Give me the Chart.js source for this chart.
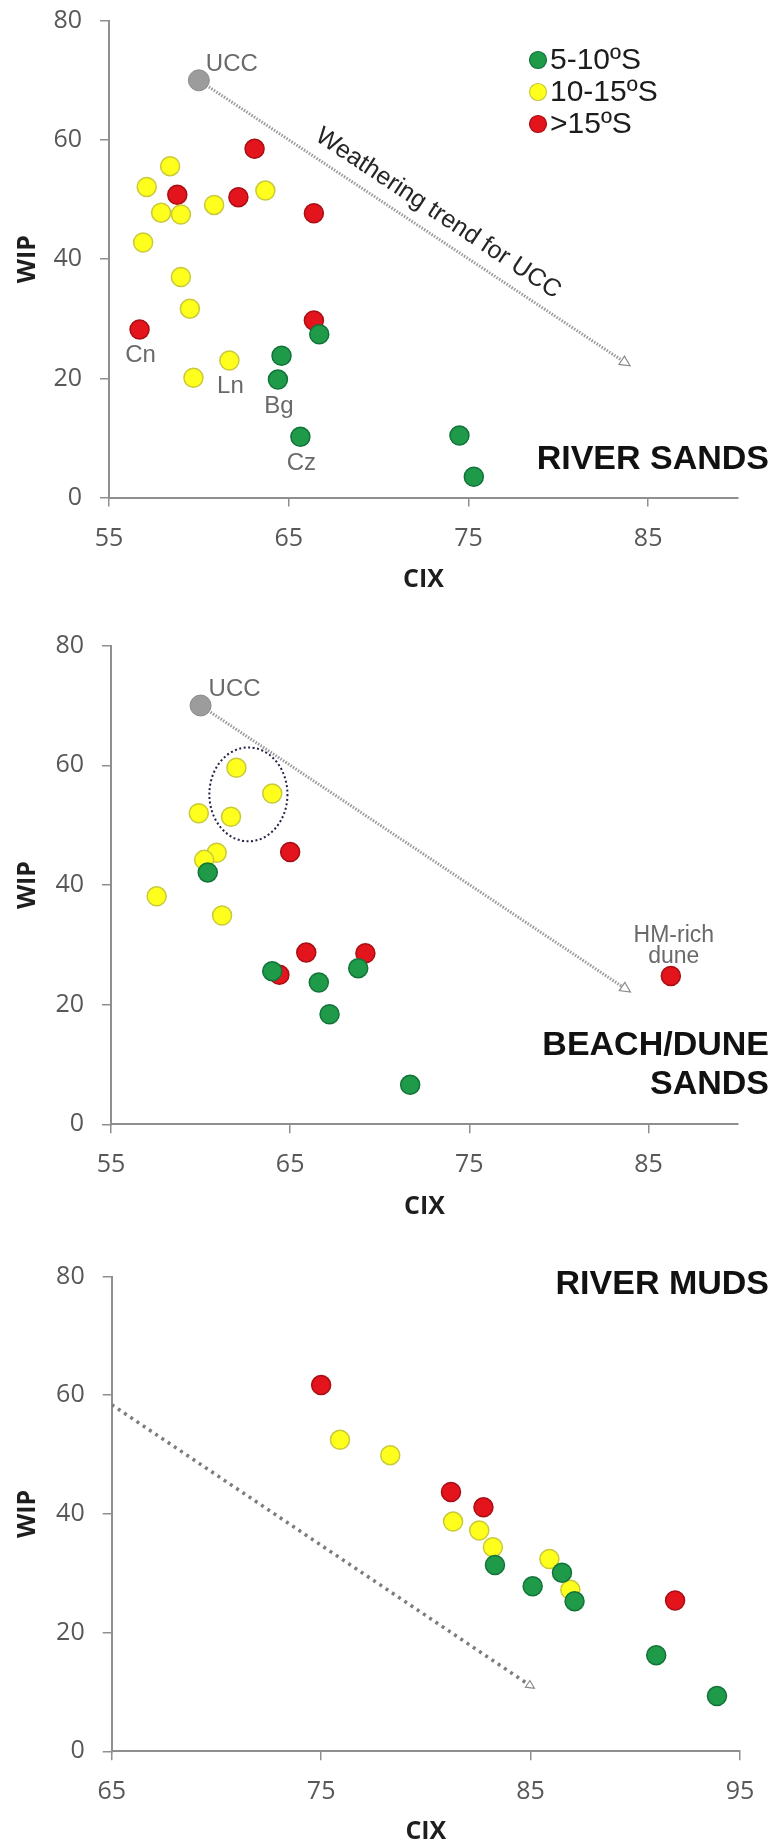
<!DOCTYPE html>
<html>
<head>
<meta charset="utf-8">
<title>WIP vs CIX</title>
<script src="https://cdn.jsdelivr.net/npm/chart.js@4.4.0/dist/chart.umd.min.js"></script>
<style>
  html, body { margin: 0; padding: 0; background: #fff; }
  #page { position: relative; width: 776px; height: 1847px; overflow: hidden; }
  .panel { position: absolute; left: 0; }
  canvas { display: block; }
</style>
</head>
<body>
<div id="page">
  <div class="panel" style="top:0px"><canvas id="riverSandsChart" width="776" height="612"></canvas></div>
  <div class="panel" style="top:612px"><canvas id="beachSandsChart" width="776" height="628"></canvas></div>
  <div class="panel" style="top:1240px"><canvas id="riverMudsChart" width="776" height="607"></canvas></div>
</div>
<script>
/* ==========================
   DỮ LIỆU
========================== */
const legendLabels = ['5-10ºS', '10-15ºS', '>15ºS'];
const yTicks = [0, 20, 40, 60, 80];
const sandXTicks = [55, 65, 75, 85];
const mudXTicks = [65, 75, 85, 95];

// UCC (upper continental crust)
const uccCIX = [60];
const uccWIP = [70];

// --- River sands ---
const rsGreenCIX = [66.7, 64.6, 64.4, 65.65, 74.5, 75.3];
const rsGreenWIP = [27.4, 23.8, 19.8, 10.2, 10.4, 3.5];
const rsYellowCIX = [58.4, 57.1, 57.9, 59.0, 56.9, 60.85, 63.7, 59.0, 59.5, 61.7, 59.7];
const rsYellowWIP = [55.6, 52.1, 47.8, 47.5, 42.8, 49.1, 51.5, 37.0, 31.7, 23.0, 20.1];
const rsRedCIX = [63.1, 58.8, 62.2, 66.4, 56.7, 66.4];
const rsRedWIP = [58.5, 50.8, 50.4, 47.7, 28.2, 29.7];
const rsLabelNames = ['Cn', 'Ln', 'Bg', 'Cz'];
const rsLabelCIX = [56.7, 61.7, 64.4, 65.65];
const rsLabelWIP = [28.2, 23.0, 19.8, 10.2];

// --- Beach / dune sands ---
const bdGreenCIX = [60.4, 64.0, 66.6, 67.2, 68.8, 71.7];
const bdGreenWIP = [42.1, 25.6, 23.7, 18.4, 26.1, 6.6];
const bdYellowCIX = [62.0, 64.0, 59.9, 61.7, 60.9, 60.2, 57.55, 61.2];
const bdYellowWIP = [59.6, 55.3, 52.0, 51.4, 45.4, 44.2, 38.1, 34.9];
const bdRedCIX = [65.0, 65.9, 69.2, 64.4, 86.25];
const bdRedWIP = [45.5, 28.7, 28.6, 25.0, 24.8];
// vòng elip chấm (nhóm điểm) : tâm và bán trục theo đơn vị dữ liệu
const bdCircleCIX = [62.67, 2.18];
const bdCircleWIP = [55.15, 7.85];

// --- River muds ---
const rmGreenCIX = [83.3, 85.1, 86.5, 87.1, 91.0, 93.9];
const rmGreenWIP = [31.4, 27.8, 30.1, 25.3, 16.2, 9.3];
const rmYellowCIX = [75.9, 78.3, 81.3, 82.55, 83.2, 85.9, 86.9];
const rmYellowWIP = [52.5, 49.9, 38.7, 37.2, 34.4, 32.4, 27.2];
const rmRedCIX = [75.0, 81.2, 82.75, 91.9];
const rmRedWIP = [61.7, 43.7, 41.1, 25.4];

// Đường xu hướng phong hoá
const sandTrendCIX = [60, 83.9];
const sandTrendWIP = [70, 22.3];
const mudTrendCIX = [65, 85.1];
const mudTrendWIP = [58.4, 10.8];

/* ==========================
   MÀU & FONT
========================== */
const GREEN = '#1f9a48', GREEN_EDGE = '#12733a';
const YELLOW = '#ffff1e', YELLOW_EDGE = '#c9c93a';
const RED = '#e3141c', RED_EDGE = '#a80e14';
const GREY = '#9c9c9c', GREY_EDGE = '#8a8a8a';
const AXIS = '#8f8f8f';
const TICK_TEXT = '#585858';
const TICK_FONT = { family: '"Open Sans", sans-serif', size: 25, lineHeight: 1.2 };
const AXIS_TITLE_FONT = { family: '"Open Sans", sans-serif', size: 25, weight: 'bold', lineHeight: 1.2 };
const ARIAL = '"Liberation Sans", Arial, sans-serif';

function toPoints(xs, ys) {
    return xs.map((x, i) => ({ x: x, y: ys[i] }));
}

/* ==========================
   PLUGIN: chú thích, nhãn, tiêu đề
========================== */
const decorPlugin = {
    id: 'decor',
    afterDatasetsDraw(chart, args, opts) {
        const ctx = chart.ctx;
        const px = v => chart.scales.x.getPixelForValue(v);
        const py = v => chart.scales.y.getPixelForValue(v);
        ctx.save();

        // mũi tên rỗng ở cuối đường xu hướng
        if (opts.trendIndex !== undefined) {
            const pts = chart.getDatasetMeta(opts.trendIndex).data;
            const a = pts[0], b = pts[pts.length - 1];
            const ang = Math.atan2(b.y - a.y, b.x - a.x);
            const len = opts.arrowLen || 10, hw = opts.arrowHalf || 5;
            ctx.translate(b.x, b.y);
            ctx.rotate(ang);
            ctx.beginPath();
            ctx.moveTo(2, 0);
            ctx.lineTo(2 - len, -hw);
            ctx.lineTo(2 - len, hw);
            ctx.closePath();
            ctx.fillStyle = '#fff';
            ctx.fill();
            ctx.lineWidth = 1.2;
            ctx.strokeStyle = '#8a8a8a';
            ctx.stroke();
            ctx.setTransform(1, 0, 0, 1, 0, 0);

            // chữ chạy dọc theo đường
            if (opts.trendText) {
                const t = opts.trendText;
                const cx = a.x + (b.x - a.x) * t.at;
                const cy = a.y + (b.y - a.y) * t.at;
                ctx.translate(cx, cy);
                ctx.rotate(ang);
                ctx.font = t.font;
                ctx.fillStyle = '#262626';
                ctx.textAlign = 'center';
                ctx.textBaseline = 'middle';
                ctx.fillText(t.text, 0, -t.offset);
                ctx.setTransform(1, 0, 0, 1, 0, 0);
            }
        }

        // elip chấm
        if (opts.ellipse) {
            const e = opts.ellipse;
            const cx = px(e.cix[0]), cy = py(e.wip[0]);
            const rx = Math.abs(px(e.cix[0] + e.cix[1]) - cx);
            const ry = Math.abs(py(e.wip[0] + e.wip[1]) - cy);
            ctx.beginPath();
            ctx.ellipse(cx, cy, rx, ry, 0, 0, Math.PI * 2);
            ctx.setLineDash([2, 2.5]);
            ctx.lineWidth = 2;
            ctx.strokeStyle = '#23234a';
            ctx.stroke();
            ctx.setLineDash([]);
        }

        // nhãn điểm
        (opts.pointLabels || []).forEach(l => {
            ctx.font = l.font || ('24px ' + ARIAL);
            ctx.fillStyle = l.color || '#6a6a6a';
            ctx.textAlign = l.align || 'center';
            ctx.textBaseline = 'alphabetic';
            ctx.fillText(l.text, px(l.x) + (l.dx || 0), py(l.y) + (l.dy || 0));
        });

        // chú giải
        if (opts.legend) {
            const lg = opts.legend;
            chart.data.datasets.slice(lg.from, lg.from + legendLabels.length).forEach((ds, i) => {
                const y = lg.y + i * lg.gap;
                ctx.beginPath();
                ctx.arc(lg.x, y, 8.5, 0, Math.PI * 2);
                ctx.fillStyle = ds.backgroundColor;
                ctx.fill();
                ctx.lineWidth = 1.2;
                ctx.strokeStyle = ds.borderColor;
                ctx.stroke();
                ctx.font = '30px ' + ARIAL;
                ctx.fillStyle = '#1c1c1c';
                ctx.textAlign = 'left';
                ctx.textBaseline = 'middle';
                ctx.fillText(ds.label, lg.x + 12, y + 1);
            });
        }

        // tiêu đề lớn
        (opts.titles || []).forEach(t => {
            ctx.font = 'bold 34px ' + ARIAL;
            ctx.fillStyle = '#111';
            ctx.textAlign = 'right';
            ctx.textBaseline = 'alphabetic';
            ctx.fillText(t.text, t.x, t.y);
        });

        ctx.restore();
    }
};

/* ==========================
   TẠO MỘT BIỂU ĐỒ
========================== */
function makePanel(canvasId, cfg) {
    const canvas = document.getElementById(canvasId);
    const H = canvas.height;

    const groups = [
        { cix: cfg.green[0], wip: cfg.green[1], fill: GREEN, edge: GREEN_EDGE },
        { cix: cfg.yellow[0], wip: cfg.yellow[1], fill: YELLOW, edge: YELLOW_EDGE },
        { cix: cfg.red[0], wip: cfg.red[1], fill: RED, edge: RED_EDGE }
    ];

    const datasets = [];
    if (cfg.ucc) {
        datasets.push({
            label: 'UCC', data: toPoints(uccCIX, uccWIP), order: 0,
            backgroundColor: GREY, borderColor: GREY_EDGE, borderWidth: 1, pointRadius: 10.5
        });
    }
    const legendFrom = datasets.length;
    groups.forEach((g, i) => {
        datasets.push({
            label: legendLabels[i], data: toPoints(g.cix, g.wip), order: i + 1,
            backgroundColor: g.fill, borderColor: g.edge, borderWidth: 1.5, pointRadius: 9.5
        });
    });
    const trendIndex = datasets.length;
    datasets.push({
        label: 'trend', data: toPoints(cfg.trend[0], cfg.trend[1]), order: 9,
        showLine: true, pointRadius: 0,
        borderColor: cfg.trendColor, borderWidth: cfg.trendWidth, borderDash: cfg.trendDash,
        backgroundColor: 'transparent'
    });

    const decor = Object.assign({ trendIndex: trendIndex }, cfg.decor);
    if (decor.legend) decor.legend.from = legendFrom;

    return new Chart(canvas, {
        type: 'scatter',
        data: { datasets: datasets },
        options: {
            responsive: false,
            animation: false,
            devicePixelRatio: 1,
            events: [],
            layout: { padding: { left: 0, top: cfg.plotTop, right: canvas.width - cfg.plotRight, bottom: 0 } },
            plugins: {
                legend: { display: false },
                tooltip: { enabled: false },
                decor: decor
            },
            scales: {
                x: {
                    type: 'linear',
                    min: cfg.xRange[0],
                    max: cfg.xRange[1],
                    afterBuildTicks: axis => { axis.ticks = cfg.xTicks.map(v => ({ value: v })); },
                    afterFit: axis => {
                        axis.height = H - cfg.plotBottom;
                        axis.paddingLeft = 0; axis.paddingRight = 0;
                    },
                    grid: { display: true, drawOnChartArea: false, drawTicks: true, tickLength: 9, color: AXIS, lineWidth: 1.5 },
                    border: { display: true, color: AXIS, width: 2 },
                    ticks: { padding: 17, color: TICK_TEXT, font: TICK_FONT, maxRotation: 0, autoSkip: false, callback: v => String(v) },
                    title: { display: true, text: 'CIX', color: '#1e1e1e', font: AXIS_TITLE_FONT, padding: { top: 0, bottom: cfg.cixPad } }
                },
                y: {
                    type: 'linear',
                    min: yTicks[0],
                    max: yTicks[yTicks.length - 1],
                    afterBuildTicks: axis => { axis.ticks = yTicks.map(v => ({ value: v })); },
                    afterFit: axis => {
                        axis.width = cfg.plotLeft;
                        // giữ vùng vẽ đúng vị trí, không để nhãn đẩy xuống
                        axis.paddingTop = 0; axis.paddingBottom = 0;
                    },
                    grid: { display: true, drawOnChartArea: false, drawTicks: true, tickLength: 9, color: AXIS, lineWidth: 1.5 },
                    border: { display: true, color: AXIS, width: 2 },
                    ticks: { padding: 18, color: TICK_TEXT, font: TICK_FONT, callback: v => String(v) },
                    title: { display: true, text: 'WIP', color: '#1e1e1e', font: AXIS_TITLE_FONT, padding: { top: 13, bottom: 0 } }
                }
            }
        },
        plugins: [decorPlugin]
    });
}

/* ==========================
   KHỞI CHẠY
========================== */
document.addEventListener('DOMContentLoaded', function () {

    // 1. River sands
    makePanel('riverSandsChart', {
        ucc: true,
        green: [rsGreenCIX, rsGreenWIP],
        yellow: [rsYellowCIX, rsYellowWIP],
        red: [rsRedCIX, rsRedWIP],
        trend: [sandTrendCIX, sandTrendWIP],
        trendColor: '#9a9a9a', trendWidth: 3, trendDash: [1.5, 1.5],
        xRange: [55, 90], xTicks: sandXTicks,
        plotLeft: 109, plotRight: 738, plotTop: 20.7, plotBottom: 497.6, cixPad: 17,
        decor: {
            pointLabels: [{ text: 'UCC', x: uccCIX[0], y: uccWIP[0], dx: 7, dy: -9, align: 'left' }]
                .concat(rsLabelNames.map((n, i) => ({ text: n, x: rsLabelCIX[i], y: rsLabelWIP[i], dx: 1, dy: 33 }))),
            trendText: { text: 'Weathering trend for UCC', at: 0.53, offset: 21, font: '25px ' + ARIAL },
            legend: { x: 538, y: 60, gap: 32 },
            titles: [{ text: 'RIVER SANDS', x: 769, y: 469 }]
        }
    });

    // 2. Beach / dune sands
    makePanel('beachSandsChart', {
        ucc: true,
        green: [bdGreenCIX, bdGreenWIP],
        yellow: [bdYellowCIX, bdYellowWIP],
        red: [bdRedCIX, bdRedWIP],
        trend: [sandTrendCIX, sandTrendWIP],
        trendColor: '#9a9a9a', trendWidth: 3, trendDash: [1.5, 1.5],
        xRange: [55, 90], xTicks: sandXTicks,
        plotLeft: 111, plotRight: 738, plotTop: 33.7, plotBottom: 512.3, cixPad: 18,
        decor: {
            pointLabels: [
                { text: 'UCC', x: uccCIX[0], y: uccWIP[0], dx: 8, dy: -9.5, align: 'left' },
                { text: 'HM-rich', x: bdRedCIX[4], y: bdRedWIP[4], dx: 3, dy: -34, font: '23px ' + ARIAL },
                { text: 'dune', x: bdRedCIX[4], y: bdRedWIP[4], dx: 3, dy: -13, font: '23px ' + ARIAL }
            ],
            ellipse: { cix: bdCircleCIX, wip: bdCircleWIP },
            titles: [
                { text: 'BEACH/DUNE', x: 769, y: 442.6 },
                { text: 'SANDS', x: 769, y: 482 }
            ]
        }
    });

    // 3. River muds
    makePanel('riverMudsChart', {
        ucc: false,
        green: [rmGreenCIX, rmGreenWIP],
        yellow: [rmYellowCIX, rmYellowWIP],
        red: [rmRedCIX, rmRedWIP],
        trend: [mudTrendCIX, mudTrendWIP],
        trendColor: '#7c7c7c', trendWidth: 3.5, trendDash: [3, 4.5],
        xRange: [65, 95], xTicks: mudXTicks,
        plotLeft: 111.7, plotRight: 740, plotTop: 36.5, plotBottom: 511.3, cixPad: 0,
        decor: {
            arrowLen: 8, arrowHalf: 4,
            titles: [{ text: 'RIVER MUDS', x: 769, y: 54 }]
        }
    });
});
</script>
</body>
</html>
